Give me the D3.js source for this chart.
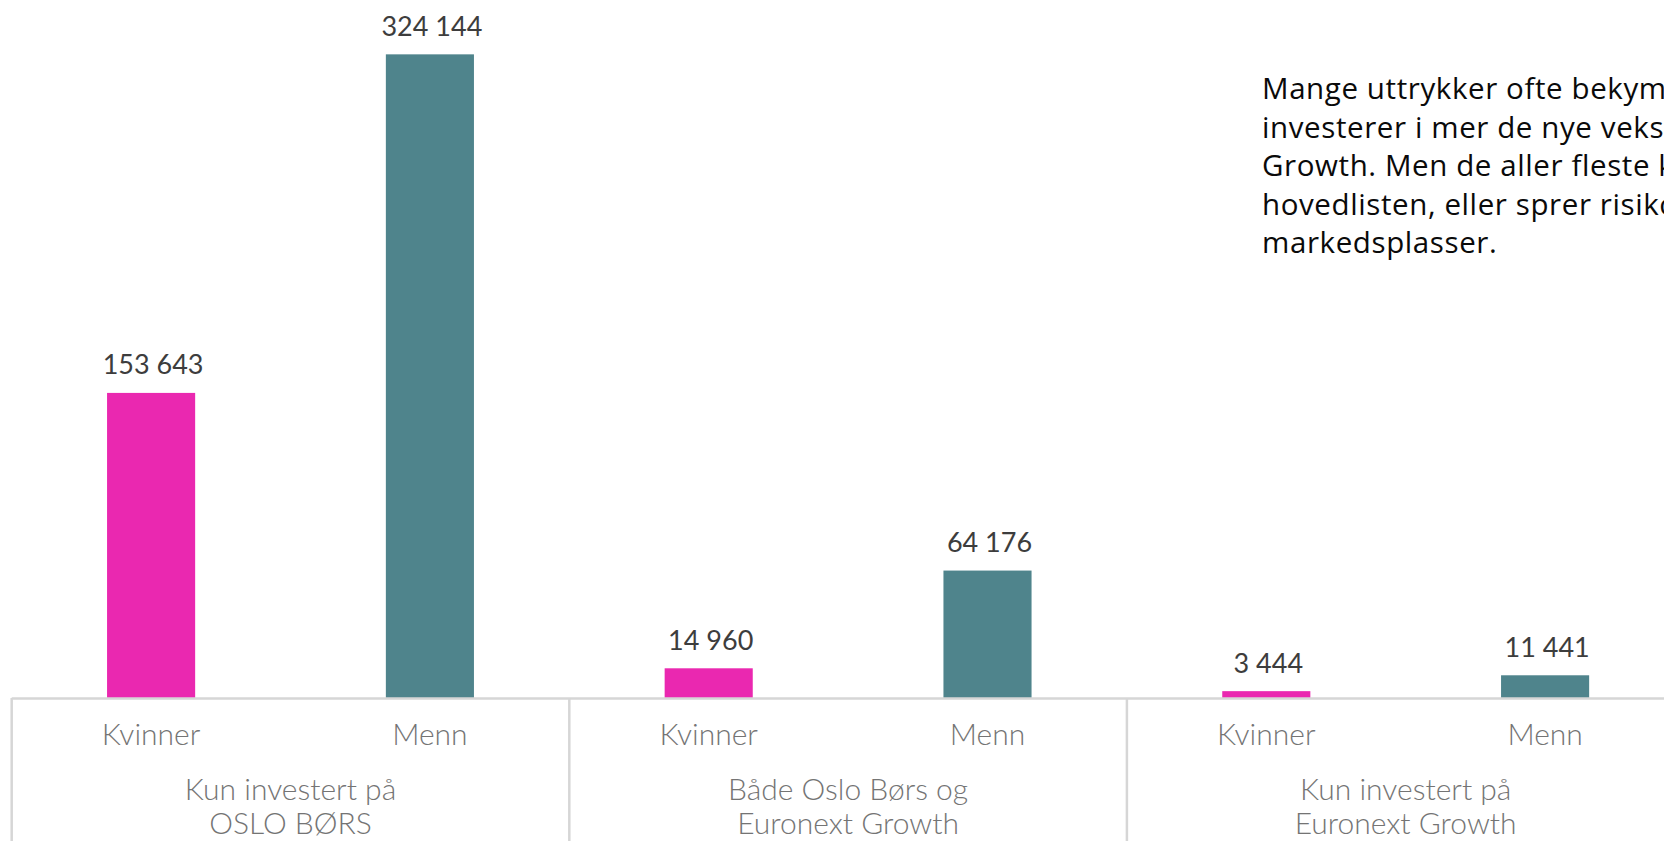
<!DOCTYPE html>
<html>
<head>
<meta charset="utf-8">
<script src="https://cdn.jsdelivr.net/npm/d3@7"></script>
<style>
  body { margin: 0; background: #fff; }
  svg { display: block; }
</style>
</head>
<body>
<div id="chart"></div>
<script>
//Data
var groups = [
  ["Kun investert på", "OSLO BØRS"],
  ["Både Oslo Børs og", "Euronext Growth"],
  ["Kun investert på", "Euronext Growth"]
];
var groupKeys = ["oslo", "begge", "growth"];
var genders = ["Kvinner", "Menn"];
var kvinner = [153643, 14960, 3444];
var menn = [324144, 64176, 11441];

var noteLines = [
  "Mange uttrykker ofte bekymring for at kvinner",
  "investerer i mer de nye vekstselskapene på Euronext",
  "Growth. Men de aller fleste kvinner investerer på",
  "hovedlisten, eller sprer risikoen på begge",
  "markedsplasser."
];

//Width and height
var w = 1664;
var h = 841;
var base = 698;
var groupW = 557.6;

var colors = { Kvinner: "#ea28b0", Menn: "#4f848c" };

//Build rows for binding
var rows = [];
groupKeys.forEach(function(g, i){
  rows.push({ group: g, gender: "Kvinner", value: kvinner[i] });
  rows.push({ group: g, gender: "Menn", value: menn[i] });
});

//Scales
var x0 = d3.scaleBand()
  .domain(groupKeys)
  .range([11.7, 11.7 + 3 * groupW]);

var x1 = d3.scaleBand()
  .domain(genders)
  .range([0, groupW])
  .paddingInner(0.684)
  .paddingOuter(0.342);

var yScale = d3.scaleLinear()
  .domain([0, 350000])
  .range([base, 3]);

//Number format with space as thousands separator
var fmt = d3.formatLocale({ decimal: ",", thousands: " ", grouping: [3], currency: ["", " kr"] }).format(",d");

var svg = d3.select("#chart")
  .append("svg")
  .attr("width", w)
  .attr("height", h);

//Bars
svg.selectAll("rect.bar")
  .data(rows)
  .enter()
  .append("rect")
  .attr("class", "bar")
  .attr("x", function(d){ return x0(d.group) + x1(d.gender); })
  .attr("y", function(d){ return yScale(d.value); })
  .attr("width", x1.bandwidth())
  .attr("height", function(d){ return yScale(0) - yScale(d.value); })
  .style("fill", function(d){ return colors[d.gender]; });

//Value labels
svg.selectAll("text.value")
  .data(rows)
  .enter()
  .append("text")
  .attr("class", "value")
  .attr("x", function(d){ return x0(d.group) + x1(d.gender) + x1.bandwidth() / 2 + 2; })
  .attr("y", function(d){ return yScale(d.value) - 18.5; })
  .attr("text-anchor", "middle")
  .style("font-family", "Lato, sans-serif")
  .style("font-size", "27px")
  .style("fill", "#3d3d3d")
  .text(function(d){ return fmt(d.value); });

//Base line and group dividers
svg.append("line")
  .attr("x1", x0.range()[0])
  .attr("x2", w)
  .attr("y1", base + 0.5)
  .attr("y2", base + 0.5)
  .style("stroke", "#d6d6d6")
  .style("stroke-width", 2.5);

svg.selectAll("line.divider")
  .data(groupKeys)
  .enter()
  .append("line")
  .attr("class", "divider")
  .attr("x1", function(d){ return x0(d); })
  .attr("x2", function(d){ return x0(d); })
  .attr("y1", base)
  .attr("y2", h)
  .style("stroke", "#d6d6d6")
  .style("stroke-width", 2.5);

//Gender labels
svg.selectAll("text.gender")
  .data(rows)
  .enter()
  .append("text")
  .attr("class", "gender")
  .attr("x", function(d){ return x0(d.group) + x1(d.gender) + x1.bandwidth() / 2; })
  .attr("y", 745)
  .attr("text-anchor", "middle")
  .style("font-family", "Lato, sans-serif")
  .style("font-weight", 300)
  .style("font-size", "30px")
  .style("fill", "#747474")
  .text(function(d){ return d.gender; });

//Group labels
var gl = svg.selectAll("text.group")
  .data(groupKeys)
  .enter()
  .append("text")
  .attr("class", "group")
  .attr("text-anchor", "middle")
  .style("font-family", "Lato, sans-serif")
  .style("font-weight", 300)
  .style("font-size", "30px")
  .style("fill", "#747474");

gl.selectAll("tspan")
  .data(function(d, i){
    var cx = x0(d) + x0.bandwidth() / 2;
    return groups[i].map(function(t, j){ return { t: t, x: cx, y: 800 + j * 34 }; });
  })
  .enter()
  .append("tspan")
  .attr("x", function(d){ return d.x; })
  .attr("y", function(d){ return d.y; })
  .text(function(d){ return d.t; });

//Note text, runs off the right edge like the original
svg.append("text")
  .attr("class", "note")
  .style("font-family", "'Open Sans', sans-serif")
  .style("font-size", "29.5px")
  .style("letter-spacing", "0.6px")
  .style("fill", "#0a0a0a")
  .selectAll("tspan")
  .data(noteLines)
  .enter()
  .append("tspan")
  .attr("x", 1262)
  .attr("y", function(d, i){ return 99 + i * 38.5; })
  .text(function(d){ return d; });
</script>
</body>
</html>
